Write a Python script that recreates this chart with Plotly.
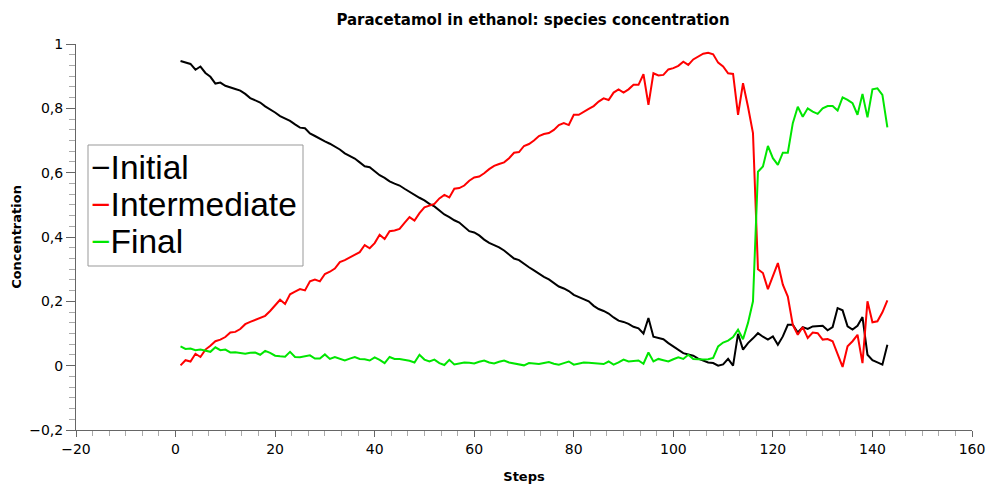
import plotly.graph_objects as go

steps = list(range(1, 144))

initial = [
    0.947, 0.942, 0.938, 0.920, 0.930, 0.910, 0.898, 0.877, 0.880, 0.870,
    0.864, 0.860, 0.855, 0.845, 0.832, 0.826, 0.818, 0.806, 0.797, 0.787,
    0.776, 0.768, 0.761, 0.750, 0.740, 0.738, 0.722, 0.714, 0.705, 0.697,
    0.690, 0.681, 0.672, 0.660, 0.651, 0.644, 0.632, 0.620, 0.617, 0.604,
    0.592, 0.584, 0.573, 0.566, 0.560, 0.550, 0.540, 0.530, 0.522, 0.514,
    0.503, 0.495, 0.482, 0.470, 0.462, 0.452, 0.445, 0.432, 0.418, 0.414,
    0.405, 0.392, 0.382, 0.375, 0.368, 0.358, 0.344, 0.333, 0.328, 0.316,
    0.306, 0.296, 0.285, 0.276, 0.268, 0.258, 0.246, 0.240, 0.232, 0.220,
    0.214, 0.207, 0.200, 0.186, 0.176, 0.170, 0.162, 0.150, 0.140, 0.136,
    0.130, 0.121, 0.116, 0.100, 0.148, 0.090, 0.087, 0.082, 0.070, 0.060,
    0.048, 0.039, 0.035, 0.031, 0.022, 0.015, 0.010, 0.008, 0.000, 0.004,
    0.021, 0.000, 0.099, 0.050, 0.070, 0.085, 0.101, 0.090, 0.081, 0.091,
    0.065, 0.091, 0.127, 0.127, 0.103, 0.120, 0.114, 0.122, 0.122, 0.124,
    0.110, 0.120, 0.179, 0.172, 0.122, 0.112, 0.124, 0.151, 0.034, 0.017,
    0.010, 0.003, 0.065,
]

intermediate = [
    0.001, 0.017, 0.013, 0.037, 0.027, 0.050, 0.062, 0.076, 0.081, 0.089,
    0.103, 0.105, 0.114, 0.129, 0.136, 0.142, 0.148, 0.155, 0.170, 0.188,
    0.205, 0.192, 0.222, 0.230, 0.238, 0.234, 0.262, 0.268, 0.262, 0.285,
    0.292, 0.302, 0.322, 0.328, 0.336, 0.345, 0.353, 0.375, 0.365, 0.381,
    0.407, 0.394, 0.418, 0.420, 0.425, 0.444, 0.462, 0.451, 0.474, 0.492,
    0.497, 0.503, 0.520, 0.531, 0.523, 0.550, 0.552, 0.560, 0.575, 0.585,
    0.588, 0.598, 0.611, 0.621, 0.627, 0.632, 0.645, 0.662, 0.664, 0.683,
    0.689, 0.700, 0.714, 0.720, 0.723, 0.733, 0.748, 0.754, 0.748, 0.780,
    0.780, 0.790, 0.798, 0.807, 0.821, 0.831, 0.826, 0.849, 0.859, 0.849,
    0.859, 0.873, 0.873, 0.906, 0.811, 0.909, 0.902, 0.904, 0.921, 0.925,
    0.932, 0.945, 0.935, 0.952, 0.962, 0.970, 0.973, 0.968, 0.942, 0.930,
    0.909, 0.907, 0.780, 0.878, 0.805, 0.723, 0.300, 0.288, 0.238, 0.277,
    0.319, 0.252, 0.215, 0.127, 0.096, 0.120, 0.086, 0.103, 0.101, 0.081,
    0.083, 0.076, 0.037, -0.004, 0.060, 0.076, 0.096, 0.008, 0.200, 0.135,
    0.138, 0.166, 0.203,
]

final = [
    0.060, 0.052, 0.053, 0.048, 0.050, 0.047, 0.043, 0.057, 0.048, 0.050,
    0.041, 0.042, 0.040, 0.037, 0.040, 0.041, 0.034, 0.046, 0.040, 0.031,
    0.029, 0.028, 0.043, 0.027, 0.026, 0.030, 0.032, 0.022, 0.022, 0.035,
    0.021, 0.027, 0.022, 0.016, 0.022, 0.027, 0.021, 0.020, 0.016, 0.026,
    0.018, 0.008, 0.027, 0.021, 0.021, 0.019, 0.015, 0.010, 0.034, 0.019,
    0.013, 0.019, 0.008, 0.002, 0.018, 0.004, 0.008, 0.010, 0.009, 0.007,
    0.012, 0.016, 0.010, 0.007, 0.012, 0.016, 0.010, 0.007, 0.004, 0.001,
    0.008, 0.007, 0.005, 0.008, 0.011, 0.006, 0.003, 0.008, 0.013, 0.003,
    0.006, 0.010, 0.009, 0.008, 0.006, 0.005, 0.013, 0.003, 0.010, 0.019,
    0.013, 0.015, 0.016, 0.006, 0.041, 0.013, 0.021, 0.017, 0.013, 0.020,
    0.026, 0.021, 0.034, 0.021, 0.019, 0.019, 0.020, 0.024, 0.060, 0.072,
    0.078, 0.089, 0.112, 0.082, 0.133, 0.200, 0.603, 0.619, 0.683, 0.645,
    0.624, 0.662, 0.662, 0.754, 0.805, 0.774, 0.800, 0.790, 0.783, 0.800,
    0.807, 0.807, 0.793, 0.834, 0.826, 0.816, 0.780, 0.845, 0.772, 0.859,
    0.862, 0.842, 0.741,
]

series_names = ["Initial", "Intermediate", "Final"]
series_colors = ["#000000", "#ff0000", "#00e600"]
series_values = [initial, intermediate, final]

fig = go.Figure()
for name, vals, col in zip(series_names, series_values, series_colors):
    fig.add_trace(go.Scatter(x=steps, y=vals, mode="lines", name=name,
                             line=dict(color=col, width=2), showlegend=False))

# plot area in pixels: left 76, right 972, top 44, bottom 430
L, R, T, B = 76, 972, 44, 430
W, H = 992, 484
def px_x(px):
    return (px - L) / (R - L)
def px_y(py):
    return (B - py) / (B - T)

axis_font = dict(family="DejaVu Sans", size=14, color="#000")

fig.update_layout(
    width=W, height=H, autosize=False,
    margin=dict(l=L, r=W - R, t=T, b=H - B, pad=0, autoexpand=False),
    paper_bgcolor="white", plot_bgcolor="white",
    separators=",.",
    title=dict(text="Paracetamol in ethanol: species concentration",
               font=dict(family="DejaVu Sans", size=15, color="#000", weight="bold"),
               x=px_x(533), xref="paper", xanchor="center",
               y=1 - 20 / H, yref="container", yanchor="middle", automargin=False),
    xaxis=dict(range=[-20, 160], tick0=0, dtick=20, showgrid=False, zeroline=False,
               showline=True, linecolor="#666", linewidth=1, automargin=False,
               ticks="outside", ticklen=6, tickcolor="#666", tickwidth=1,
               tickfont=axis_font,
               minor=dict(dtick=20 / 6, ticks="outside", ticklen=5, tickcolor="#aaa", showgrid=False),
               title=dict(text="Steps", standoff=17,
                          font=dict(family="DejaVu Sans", size=13, color="#000", weight="bold"))),
    yaxis=dict(range=[-0.2, 1], tick0=0, dtick=0.2, showgrid=False, zeroline=False,
               showline=True, linecolor="#666", linewidth=1, automargin=False,
               ticks="outside", ticklen=9, tickcolor="#666", tickwidth=1,
               tickfont=axis_font,
               minor=dict(dtick=0.2 / 6, ticks="outside", ticklen=6, tickcolor="#aaa", showgrid=False),
               title=dict(text="Concentration", standoff=4,
                          font=dict(family="DejaVu Sans", size=13, color="#000", weight="bold"))),
)

# legend box drawn as in the reference (short coloured dash before each name)
fig.add_shape(type="rect", xref="paper", yref="paper",
              x0=px_x(88), x1=px_x(303), y0=px_y(266), y1=px_y(145),
              line=dict(color="#999", width=1), fillcolor="white", layer="above")
row_y = [167, 204, 241]
for name, col, py in zip(series_names, series_colors, row_y):
    fig.add_annotation(xref="paper", yref="paper", x=px_x(89), y=px_y(py),
                       xanchor="left", yanchor="middle", showarrow=False,
                       text=f'<span style="color:{col}">\u2212</span>{name}',
                       font=dict(family="Liberation Sans", size=33.5, color="#000"))

fig.write_html("out.html", config={"displayModeBar": False},
               post_script="document.body.style.margin='0';document.body.style.padding='0';")
